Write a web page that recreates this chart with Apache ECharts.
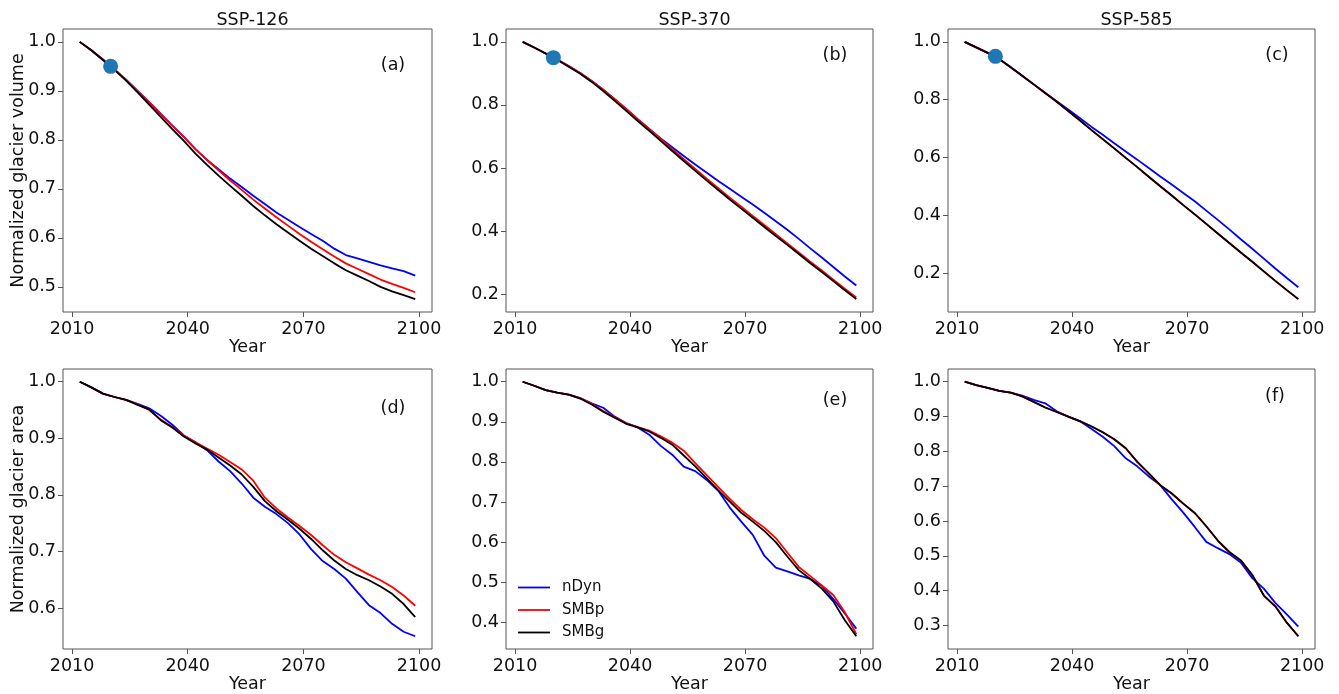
<!DOCTYPE html>
<html>
<head>
<meta charset="utf-8">
<script src="https://cdn.jsdelivr.net/npm/echarts@6/dist/echarts.min.js"></script>
<style>
  html, body { margin: 0; padding: 0; background: #fff; }
  #chart { width: 1339px; height: 694px; }
</style>
</head>
<body>
<div id="chart"></div>
<script>
// ---------------- DATA ----------------
const years = [2012,2015,2018,2021,2024,2027,2030,2033,2036,2039,2042,2045,2048,2051,2054,2057,2060,2063,2066,2069,2072,2075,2078,2081,2084,2087,2090,2093,2096,2099];

const scenarios = ['SSP-126', 'SSP-370', 'SSP-585'];
const panelLetters = ['(a)', '(b)', '(c)', '(d)', '(e)', '(f)'];
const seriesNames = ['nDyn', 'SMBp', 'SMBg'];
const xTicks = [2010, 2040, 2070, 2100];
const yTicksVolume126 = [0.5, 0.6, 0.7, 0.8, 0.9, 1.0];
const yTicksVolume370 = [0.2, 0.4, 0.6, 0.8, 1.0];
const yTicksVolume585 = [0.2, 0.4, 0.6, 0.8, 1.0];
const yTicksArea126 = [0.6, 0.7, 0.8, 0.9, 1.0];
const yTicksArea370 = [0.4, 0.5, 0.6, 0.7, 0.8, 0.9, 1.0];
const yTicksArea585 = [0.3, 0.4, 0.5, 0.6, 0.7, 0.8, 0.9, 1.0];
const markerYear = 2020;
const markerValue = 0.95;

// (a) SSP-126 volume
const volA_nDyn = [1.000,0.983,0.964,0.944,0.923,0.900,0.877,0.853,0.829,0.806,0.781,0.759,0.740,0.721,0.704,0.686,0.669,0.652,0.637,0.622,0.608,0.594,0.578,0.565,0.558,0.551,0.544,0.538,0.532,0.523];
const volA_SMBp = [1.000,0.983,0.964,0.944,0.923,0.900,0.877,0.853,0.829,0.806,0.781,0.759,0.738,0.717,0.698,0.678,0.660,0.642,0.625,0.608,0.592,0.577,0.562,0.548,0.537,0.526,0.515,0.506,0.498,0.489];
const volA_SMBg = [1.000,0.983,0.963,0.943,0.921,0.897,0.872,0.847,0.822,0.798,0.772,0.749,0.727,0.706,0.686,0.665,0.646,0.628,0.611,0.594,0.578,0.563,0.548,0.534,0.523,0.512,0.500,0.491,0.483,0.475];
// (b) SSP-370 volume
const volB_nDyn = [1.000,0.982,0.963,0.944,0.923,0.901,0.876,0.848,0.818,0.787,0.755,0.724,0.694,0.666,0.638,0.611,0.585,0.559,0.534,0.509,0.484,0.458,0.431,0.404,0.375,0.345,0.316,0.286,0.256,0.227];
const volB_SMBp = [1.000,0.982,0.963,0.944,0.923,0.901,0.876,0.848,0.818,0.787,0.755,0.724,0.692,0.660,0.628,0.597,0.566,0.536,0.506,0.477,0.448,0.419,0.390,0.361,0.332,0.303,0.275,0.246,0.217,0.189];
const volB_SMBg = [1.000,0.982,0.963,0.943,0.921,0.899,0.873,0.844,0.813,0.781,0.749,0.718,0.686,0.654,0.622,0.591,0.560,0.530,0.500,0.471,0.442,0.413,0.384,0.356,0.327,0.298,0.270,0.241,0.212,0.184];
// (c) SSP-585 volume
const volC_nDyn = [1.000,0.981,0.962,0.941,0.912,0.883,0.853,0.823,0.795,0.766,0.737,0.707,0.679,0.650,0.621,0.593,0.564,0.535,0.507,0.478,0.449,0.417,0.385,0.352,0.318,0.285,0.251,0.217,0.184,0.152];
const volC_SMBp = [1.000,0.981,0.962,0.941,0.912,0.883,0.853,0.823,0.793,0.761,0.729,0.696,0.664,0.632,0.599,0.567,0.534,0.501,0.469,0.436,0.404,0.371,0.338,0.305,0.272,0.240,0.207,0.174,0.142,0.111];
const volC_SMBg = [1.000,0.981,0.962,0.941,0.912,0.883,0.853,0.823,0.793,0.761,0.729,0.696,0.664,0.632,0.599,0.567,0.534,0.501,0.469,0.436,0.404,0.371,0.338,0.305,0.272,0.240,0.207,0.174,0.142,0.111];
// (d) SSP-126 area
const areaD_nDyn = [1.000,0.990,0.979,0.973,0.968,0.961,0.953,0.940,0.924,0.905,0.893,0.879,0.859,0.842,0.820,0.795,0.779,0.766,0.750,0.730,0.704,0.683,0.669,0.652,0.628,0.605,0.591,0.572,0.558,0.550];
const areaD_SMBp = [1.000,0.990,0.979,0.973,0.968,0.960,0.950,0.933,0.920,0.905,0.893,0.882,0.871,0.858,0.845,0.825,0.795,0.776,0.760,0.745,0.729,0.711,0.694,0.681,0.670,0.659,0.649,0.637,0.622,0.604];
const areaD_SMBg = [1.000,0.990,0.979,0.973,0.968,0.959,0.951,0.932,0.919,0.903,0.891,0.880,0.866,0.852,0.836,0.814,0.789,0.771,0.756,0.740,0.722,0.702,0.684,0.669,0.658,0.649,0.638,0.625,0.607,0.584];
// (e) SSP-370 area
const areaE_nDyn = [1.000,0.990,0.979,0.973,0.968,0.959,0.946,0.935,0.913,0.897,0.886,0.868,0.840,0.818,0.788,0.777,0.755,0.728,0.686,0.651,0.618,0.566,0.536,0.527,0.517,0.508,0.491,0.458,0.422,0.384];
const areaE_SMBp = [1.000,0.990,0.979,0.973,0.968,0.959,0.945,0.927,0.911,0.896,0.887,0.878,0.864,0.848,0.828,0.797,0.767,0.737,0.708,0.680,0.657,0.636,0.610,0.574,0.538,0.515,0.492,0.468,0.425,0.370];
const areaE_SMBg = [1.000,0.990,0.979,0.973,0.968,0.958,0.943,0.925,0.910,0.895,0.886,0.876,0.860,0.843,0.816,0.789,0.759,0.729,0.701,0.673,0.651,0.628,0.600,0.564,0.530,0.508,0.484,0.452,0.405,0.365];
// (f) SSP-585 area
const areaF_nDyn = [1.000,0.990,0.982,0.974,0.969,0.960,0.948,0.938,0.915,0.900,0.887,0.865,0.842,0.815,0.780,0.757,0.728,0.703,0.662,0.624,0.583,0.540,0.522,0.505,0.481,0.436,0.406,0.365,0.332,0.297];
const areaF_SMBp = [1.000,0.990,0.982,0.974,0.969,0.958,0.942,0.926,0.913,0.900,0.887,0.872,0.855,0.835,0.809,0.770,0.737,0.703,0.679,0.650,0.623,0.585,0.544,0.511,0.487,0.445,0.386,0.355,0.308,0.269];
const areaF_SMBg = [1.000,0.990,0.982,0.974,0.969,0.958,0.942,0.926,0.913,0.900,0.887,0.872,0.855,0.835,0.809,0.770,0.737,0.703,0.679,0.650,0.623,0.585,0.544,0.511,0.487,0.445,0.386,0.355,0.308,0.269];

// ---------------- BUILD ----------------
const panels = [
  { series: [volA_nDyn, volA_SMBp, volA_SMBg], yTicks: yTicksVolume126, marker: true },
  { series: [volB_nDyn, volB_SMBp, volB_SMBg], yTicks: yTicksVolume370, marker: true },
  { series: [volC_nDyn, volC_SMBp, volC_SMBg], yTicks: yTicksVolume585, marker: true },
  { series: [areaD_nDyn, areaD_SMBp, areaD_SMBg], yTicks: yTicksArea126, marker: false },
  { series: [areaE_nDyn, areaE_SMBp, areaE_SMBg], yTicks: yTicksArea370, marker: false },
  { series: [areaF_nDyn, areaF_SMBp, areaF_SMBg], yTicks: yTicksArea585, marker: false }
];

const FONT = 'DejaVu Sans';
const TXT = '#111';
const FRAME = '#555';
const lineColors = ['#0000ff', '#ff0000', '#000000'];
const gridLeft = [63, 506, 948];
const gridWidth = [369, 367, 367];
const gridTop = [29, 369];
const gridHeight = 283;
const letterPos = [[388, 62], [830, 52], [1272, 52], [388, 405], [830, 397], [1270, 393]];
const yNames = ['Normalized glacier volume', 'Normalized glacier area'];

const xMin = years[0] - 0.05 * (years[years.length - 1] - years[0]);
const xMax = years[years.length - 1] + 0.05 * (years[years.length - 1] - years[0]);

const grids = [], xAxes = [], yAxes = [], series = [], titles = [];

panels.forEach((p, i) => {
  const row = i < 3 ? 0 : 1, col = i % 3;
  grids.push({ left: gridLeft[col], top: gridTop[row], width: gridWidth[col], height: gridHeight,
    show: true, borderColor: FRAME, borderWidth: 1, backgroundColor: 'transparent' });
  let lo = Infinity, hi = -Infinity;
  p.series.forEach(a => a.forEach(v => { lo = Math.min(lo, v); hi = Math.max(hi, v); }));
  const pad = 0.05 * (hi - lo);
  xAxes.push({
    gridIndex: i, type: 'value', min: xMin, max: xMax,
    name: 'Year', nameLocation: 'middle', nameGap: 26, nameMoveOverlap: false,
    nameTextStyle: { fontSize: 17.5, color: TXT, fontFamily: FONT },
    axisLine: { show: false },
    axisTick: { show: true, length: 5, customValues: xTicks, lineStyle: { color: FRAME } },
    axisLabel: { customValues: xTicks, margin: 8, fontSize: 17.5, color: TXT, fontFamily: FONT,
      formatter: v => String(Math.round(v)) },
    splitLine: { show: false }
  });
  yAxes.push({
    gridIndex: i, type: 'value', min: lo - pad, max: hi + pad,
    name: col === 0 ? yNames[row] : '', nameLocation: 'middle', nameGap: 36, nameRotate: 90,
    nameMoveOverlap: false,
    nameTextStyle: { fontSize: 17.5, color: TXT, fontFamily: FONT },
    axisLine: { show: false },
    axisTick: { show: true, length: 5, customValues: p.yTicks, lineStyle: { color: FRAME } },
    axisLabel: { customValues: p.yTicks, margin: 7, fontSize: 17.5, color: TXT, fontFamily: FONT,
      formatter: v => v.toFixed(1) },
    splitLine: { show: false }
  });
  p.series.forEach((arr, s) => {
    series.push({
      type: 'line', name: seriesNames[s], xAxisIndex: i, yAxisIndex: i,
      data: years.map((y, k) => [y, arr[k]]),
      symbol: 'none', showSymbol: false, silent: true,
      lineStyle: { color: lineColors[s], width: 1.8 },
      itemStyle: { color: lineColors[s] },
      z: 2 + s
    });
  });
  if (p.marker) {
    series.push({
      type: 'scatter', name: 'start', xAxisIndex: i, yAxisIndex: i,
      data: [[markerYear, markerValue]], symbolSize: 15,
      itemStyle: { color: '#1f77b4', opacity: 1 }, z: 10, silent: true
    });
  }
  if (row === 0) {
    titles.push({ text: scenarios[col], left: gridLeft[col] + gridWidth[col] / 2, top: 6, textAlign: 'center',
      textStyle: { fontSize: 17.5, fontWeight: 'normal', color: TXT, fontFamily: FONT } });
  }
  titles.push({ text: panelLetters[i], left: letterPos[i][0], top: letterPos[i][1] - 11, textAlign: 'center',
    textStyle: { fontSize: 17.5, fontWeight: 'normal', color: TXT, fontFamily: FONT } });
});

const chart = echarts.init(document.getElementById('chart'), null, { renderer: 'canvas' });
chart.setOption({
  animation: false,
  backgroundColor: '#fff',
  title: titles,
  grid: grids,
  xAxis: xAxes,
  yAxis: yAxes,
  legend: {
    data: seriesNames.map(n => ({ name: n, icon: 'rect' })),
    orient: 'vertical', left: 518, top: 580, padding: 0,
    itemWidth: 32, itemHeight: 1.8, itemGap: 7.5, selectedMode: false,
    textStyle: { fontSize: 15, color: TXT, fontFamily: FONT, padding: [0, 0, 0, 7] }
  },
  series: series
});
</script>
</body>
</html>
